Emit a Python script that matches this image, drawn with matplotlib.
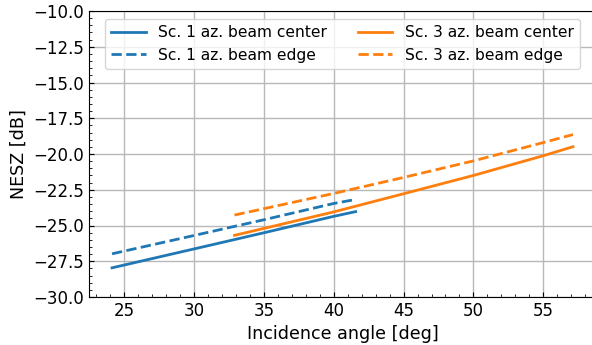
import matplotlib
matplotlib.use('Agg')
import matplotlib.pyplot as plt
from matplotlib.ticker import MultipleLocator

# incidence angle [deg] and NESZ [dB]
sc1_angle = [24.14, 30.0, 35.0, 40.0, 41.57]
sc1_center = [-27.96, -26.64, -25.51, -24.36, -24.03]
sc1_edge = [-26.98, -25.70, -24.60, -23.46, -23.18]

sc3_angle = [32.9, 40.0, 45.0, 50.0, 55.0, 57.12]
sc3_center = [-25.69, -24.05, -22.78, -21.50, -20.12, -19.49]
sc3_edge = [-24.27, -22.76, -21.64, -20.48, -19.20, -18.64]

fig = plt.figure(figsize=(5.92, 3.45), dpi=100)
ax = fig.add_axes([89 / 592, 1 - 297 / 345, 507 / 592, 286 / 345])

ax.plot(sc1_angle, sc1_center, color='C0', linewidth=2, label='Sc. 1 az. beam center')
ax.plot(sc1_angle, sc1_edge, color='C0', linewidth=2, linestyle='--', label='Sc. 1 az. beam edge')
ax.plot(sc3_angle, sc3_center, color='C1', linewidth=2, label='Sc. 3 az. beam center')
ax.plot(sc3_angle, sc3_edge, color='C1', linewidth=2, linestyle='--', label='Sc. 3 az. beam edge')

ax.set_ylim(-30, -10)
ax.yaxis.set_major_locator(MultipleLocator(2.5))
ax.yaxis.set_minor_locator(MultipleLocator(0.5))
ax.xaxis.set_major_locator(MultipleLocator(5))
ax.xaxis.set_minor_locator(MultipleLocator(1))
ax.tick_params(which='both', direction='in', labelsize=12)
ax.grid(True, which='major', color='#b8b8b8', linewidth=1)

ax.set_xlabel('Incidence angle [deg]', fontsize=12.6)
ax.set_ylabel('NESZ [dB]', fontsize=12.6)
ax.legend(loc='upper center', ncol=2, fontsize=11.2, handlelength=2.2, columnspacing=2.0)

fig.savefig('out.png', dpi=100)
